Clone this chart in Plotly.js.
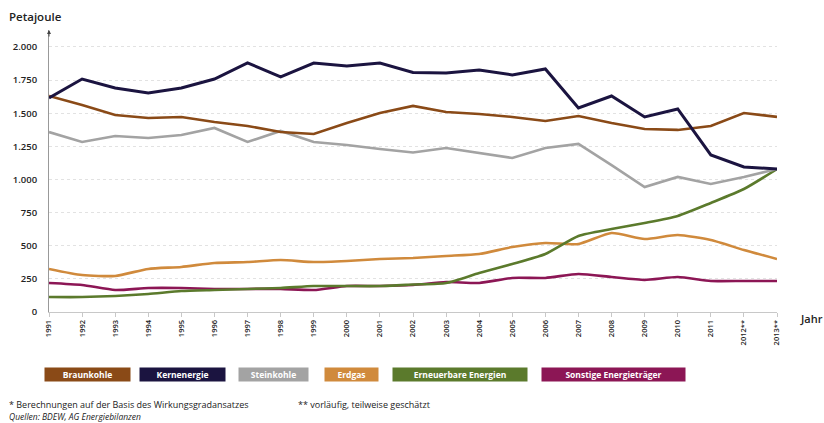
<!DOCTYPE html>
<html><head><meta charset="utf-8">
<script src="https://cdn.plot.ly/plotly-3.0.1.min.js"></script>
<style>html,body{margin:0;padding:0;background:#fff}#c{width:824px;height:423px}</style>
</head><body><div id="c"></div>
<script>
const years = [1991,1992,1993,1994,1995,1996,1997,1998,1999,2000,2001,2002,2003,2004,2005,2006,2007,2008,2009,2010,2011,2012,2013];
const yearLabels = ["1991","1992","1993","1994","1995","1996","1997","1998","1999","2000","2001","2002","2003","2004","2005","2006","2007","2008","2009","2010","2011","2012**","2013**"];
const braunkohle = [1630,1562,1487,1464,1472,1434,1404,1358,1343,1426,1502,1555,1509,1494,1472,1441,1479,1426,1381,1374,1404,1502,1472];
const kernenergie = [1615,1758,1690,1653,1690,1758,1880,1774,1879,1857,1879,1808,1804,1826,1789,1834,1540,1630,1472,1532,1185,1094,1079];
const steinkohle = [1358,1283,1328,1313,1336,1389,1283,1366,1283,1260,1230,1204,1238,1200,1162,1238,1268,1109,943,1019,966,1019,1079];
const erdgas = [325,279,272,325,340,370,377,392,377,385,400,408,423,438,490,521,513,596,551,581,543,468,400];
const erneuerbare = [113,113,121,136,158,166,174,181,196,196,196,207,219,294,362,438,574,626,672,725,823,928,1079];
const sonstige = [219,204,166,181,181,174,174,174,166,196,196,204,226,219,257,257,287,264,242,264,234,234,234];
const yTickVals = [0,250,500,750,1000,1250,1500,1750,2000];
const yTickText = ["0","250","500","750","1.000","1.250","1.500","1.750","2.000"];
const seriesNames = ["Braunkohle","Kernenergie","Steinkohle","Erdgas","Erneuerbare Energien","Sonstige Energieträger"];
const colors = ["#8a4a17","#1b1440","#a3a3a3","#d08a3c","#5b7a2c","#8c1655"];

const FONT = "Open Sans, DejaVu Sans, sans-serif";
const L=49, R=777, T=30, B=312, W=824, H=423;
const px = x => (x-L)/(R-L);
const py = y => (B-y)/(B-T);

const mk = (y,i,w,shape) => ({x:years,y:y,type:'scatter',mode:'lines',name:seriesNames[i],
  line:{color:colors[i],width:w,shape:shape||'linear',smoothing:0.6},hoverinfo:'skip'});
const data = [
  mk(sonstige,5,2.6,'spline'),
  mk(erdgas,3,2.6,'spline'),
  mk(erneuerbare,4,2.6,'spline'),
  mk(steinkohle,2,2.6),
  mk(braunkohle,0,2.6),
  mk(kernenergie,1,3)
];

const legendBoxes = [[45,130],[140,225],[239,308],[325,378],[393,527],[542,685]];
const annotations = [];
seriesNames.forEach((n,i)=>{
  const [a,b]=legendBoxes[i];
  annotations.push({xref:'paper',yref:'paper',x:px((a+b)/2),y:py(374),xanchor:'center',yanchor:'middle',
    text:n,showarrow:false,bgcolor:colors[i],width:b-a,height:13,borderpad:0,
    font:{family:FONT,size:8.5,color:'#ffffff',weight:'bold'}});
});
annotations.push({xref:'paper',yref:'paper',x:px(7),y:py(17),xanchor:'left',yanchor:'middle',text:'Petajoule',showarrow:false,font:{family:FONT,size:11.5,color:'#222',weight:600}});
annotations.push({xref:'paper',yref:'paper',x:px(798),y:py(318),xanchor:'left',yanchor:'middle',text:'Jahr',showarrow:false,font:{family:FONT,size:11,color:'#222',weight:600}});
annotations.push({xref:'paper',yref:'paper',x:px(7),y:py(404),xanchor:'left',yanchor:'middle',text:'* Berechnungen auf der Basis des Wirkungsgradansatzes',showarrow:false,font:{family:FONT,size:9,color:'#222'}});
annotations.push({xref:'paper',yref:'paper',x:px(296),y:py(404),xanchor:'left',yanchor:'middle',text:'** vorläufig, teilweise geschätzt',showarrow:false,font:{family:FONT,size:9,color:'#222'}});
annotations.push({xref:'paper',yref:'paper',x:px(7),y:py(416),xanchor:'left',yanchor:'middle',text:'<i>Quellen: BDEW, AG Energiebilanzen</i>',showarrow:false,font:{family:FONT,size:8.5,color:'#222'}});
annotations.push({xref:'paper',yref:'paper',x:0,y:1,ax:0,ay:8,showarrow:true,arrowhead:2,arrowsize:0.8,arrowwidth:1,arrowcolor:'#444',text:''});

const layout = {
  width:W,height:H,margin:{l:L,r:W-R,t:T,b:H-B},
  paper_bgcolor:'#fff',plot_bgcolor:'#fff',showlegend:false,
  font:{family:FONT,color:'#333'},
  xaxis:{range:[1991,2013],tickvals:years,ticktext:yearLabels,tickangle:-90,
    tickfont:{family:FONT,size:7.5,color:'#222',weight:600},showgrid:false,zeroline:false,
    showline:true,linecolor:'#c8c8c8',linewidth:1,ticks:'outside',ticklen:4,tickcolor:'#c8c8c8',fixedrange:true},
  yaxis:{range:[0,2128],tickvals:yTickVals,ticktext:yTickText,
    tickfont:{family:FONT,size:9.5,color:'#222',weight:600},showgrid:true,gridcolor:'#e2e2e2',griddash:'dot',gridwidth:1,
    zeroline:false,showline:true,linecolor:'#999',linewidth:1,ticks:'',ticklabelstandoff:9,fixedrange:true},
  annotations:annotations
};
Plotly.newPlot('c',data,layout,{displayModeBar:false,staticPlot:true});
</script></body></html>
